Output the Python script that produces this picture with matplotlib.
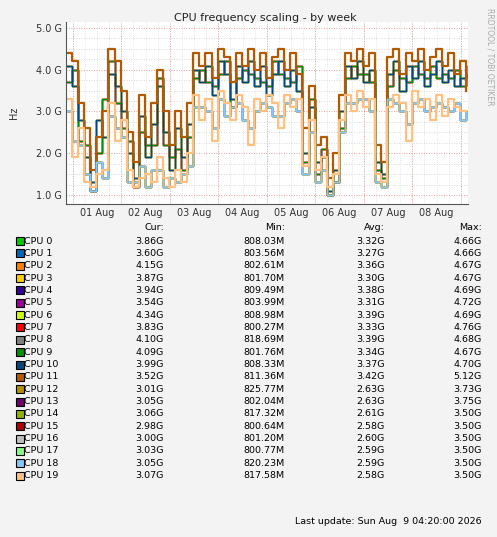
import matplotlib
matplotlib.use("Agg")
import matplotlib.pyplot as plt
from matplotlib.patches import Rectangle
import numpy as np

cpus = [f"CPU {i}" for i in range(20)]
colors = ["#00cc00", "#0066b3", "#ff8000", "#ffcc00", "#330099", "#990099", "#ccff00", "#ff0000",
          "#808080", "#008f00", "#00487d", "#b35a00", "#b38f00", "#6b006b", "#8fb300", "#b30000",
          "#bebebe", "#80ff80", "#80c9ff", "#ffc080"]
cur = ["3.86G","3.60G","4.15G","3.87G","3.94G","3.54G","4.34G","3.83G","4.10G","4.09G",
       "3.99G","3.52G","3.01G","3.05G","3.06G","2.98G","3.00G","3.03G","3.05G","3.07G"]
mins = ["808.03M","803.56M","802.61M","801.70M","809.49M","803.99M","808.98M","800.27M","818.69M","801.76M",
        "808.33M","811.36M","825.77M","802.04M","817.32M","800.64M","801.20M","800.77M","820.23M","817.58M"]
avgs = ["3.32G","3.27G","3.36G","3.30G","3.38G","3.31G","3.39G","3.33G","3.39G","3.34G",
        "3.37G","3.42G","2.63G","2.63G","2.61G","2.58G","2.60G","2.59G","2.59G","2.58G"]
maxs = ["4.66G","4.66G","4.67G","4.67G","4.69G","4.72G","4.69G","4.76G","4.68G","4.67G",
        "4.70G","5.12G","3.73G","3.75G","3.50G","3.50G","3.50G","3.50G","3.50G","3.50G"]

# time in days since 31 Jul 00:00, every 3 hours
t_start = 0.86
step = 0.125
hi = [4.4,4.2,3.2,2.6,1.6,2.4,3.0,4.5,4.2,3.5,2.5,1.8,3.4,2.4,3.2,4.0,3.0,2.2,3.0,2.4,
      3.2,4.4,4.1,4.4,3.8,4.5,4.3,3.7,4.4,4.1,4.5,4.0,4.4,3.8,4.3,4.5,4.0,4.4,3.9,2.6,
      3.6,2.2,2.4,1.4,2.0,3.4,4.4,4.2,4.5,4.1,4.4,2.2,1.8,4.3,4.5,3.9,4.4,4.2,4.5,4.0,
      4.3,4.5,4.1,4.4,3.9,4.2,3.5]
mid1 = [4.1,3.6,2.8,1.9,1.3,2.8,2.4,3.9,3.6,3.0,2.0,1.4,2.9,1.9,2.7,3.6,2.5,1.6,2.6,1.9,
        2.7,4.0,3.7,4.1,3.4,4.2,3.9,3.3,4.1,3.7,4.2,3.6,4.1,3.4,3.9,4.2,3.6,4.0,3.5,2.0,
        3.1,1.8,1.9,1.1,1.6,3.0,4.1,3.8,4.2,3.7,4.0,1.8,1.5,3.9,4.2,3.5,4.1,3.8,4.2,3.6,
        3.9,4.2,3.7,4.0,3.6,3.8,3.9]
mid2 = [3.7,4.0,2.3,2.2,1.1,2.0,3.3,4.2,3.2,2.6,2.3,1.2,2.5,2.2,2.2,3.8,2.2,1.9,2.1,1.6,
        2.4,3.8,4.0,3.7,3.6,3.9,4.2,3.1,3.8,4.0,3.9,3.8,3.7,3.6,4.2,3.9,3.8,3.7,4.1,1.8,
        3.3,1.5,2.1,1.0,1.3,2.6,3.8,4.1,3.9,3.9,3.7,1.6,1.4,3.6,4.0,3.8,3.7,4.1,3.9,3.8,
        4.1,3.8,3.9,3.8,4.0,3.6,4.1]
low = [3.3,1.9,2.6,1.3,1.2,1.5,1.6,3.2,2.3,2.8,1.6,1.2,1.4,1.5,1.3,1.9,1.4,1.2,1.6,1.3,
       2.0,3.4,2.8,3.3,2.3,3.5,3.2,2.8,3.4,3.1,2.2,3.3,3.0,3.4,3.2,2.6,3.4,3.1,3.3,1.7,
       2.8,1.6,1.9,1.2,1.5,2.8,3.4,3.0,3.5,3.1,3.3,1.5,1.3,3.1,3.4,3.2,2.3,3.5,3.1,3.3,
       2.8,3.4,2.9,3.3,3.1,3.0,3.0]
low2 = [3.0,2.3,2.2,1.5,1.1,1.8,1.4,2.9,2.6,2.4,1.3,1.3,1.7,1.2,1.6,1.6,1.2,1.4,1.3,1.5,
        1.7,3.1,3.1,3.0,2.6,3.3,2.9,3.1,3.2,2.8,2.6,3.0,3.2,3.1,2.9,2.9,3.2,3.3,3.0,1.5,
        2.5,1.3,1.6,1.0,1.3,2.5,3.2,3.2,3.3,3.3,3.0,1.3,1.2,3.3,3.2,3.0,2.7,3.2,3.3,3.0,
        3.1,3.2,3.1,3.0,3.2,2.8,3.0]
series = [mid1, mid2] * 5 + [mid1] + [hi] + [low2] * 7 + [low]
series = series[:10] + [series[10]] + [hi] + [low2] * 7 + [low]
series = [mid1, mid2] * 5 + [mid1, hi] + [low2] * 7 + [low]
series = series[:11] + [hi] + [low2] * 7 + [low]

day_labels = ["01 Aug","02 Aug","03 Aug","04 Aug","05 Aug","06 Aug","07 Aug","08 Aug"]

W, H = 497, 537
fig = plt.figure(figsize=(W/100, H/100), dpi=100, facecolor="#f3f3f3")
def fx(x): return x / W
def fy(y): return 1 - y / H

ax = fig.add_axes([fx(66), fy(204), fx(402), (204-22)/H])
ax.set_facecolor("white")
t = t_start + step * np.arange(len(hi))
for i in range(20):
    ax.step(t, series[i], where="post", color=colors[i], lw=1.6 if i in (11, 19) else 1.0)
ax.set_xlim(t_start, t_start + 402/48.5)
ax.set_ylim(0.784, 5.144)
for d in np.arange(1, 10):
    ax.axvline(d, color="#e08080", ls=(0, (1, 2)), lw=0.6, zorder=0)
for d in np.arange(1, 9.25, 0.25):
    ax.axvline(d, color="#cccccc", ls=(0, (1, 2)), lw=0.5, zorder=0)
for v in np.arange(1, 5.01, 0.25):
    ax.axhline(v, color="#cccccc" if v % 1 else "#e08080", ls=(0, (1, 2)), lw=0.6, zorder=0)
ax.set_yticks([1, 2, 3, 4, 5])
ax.set_yticklabels(["1.0 G","2.0 G","3.0 G","4.0 G","5.0 G"], fontsize=7, color="#333333")
ax.set_xticks(np.arange(1.5, 9, 1))
ax.set_xticklabels(day_labels, fontsize=7, color="#333333")
ax.tick_params(length=0, pad=3)
for s in ["top", "right"]:
    ax.spines[s].set_visible(False)
for s in ["left", "bottom"]:
    ax.spines[s].set_color("#555555")
ax.set_ylabel("Hz", fontsize=7, color="#333333", labelpad=12)

fig.text(fx(265), fy(21), "CPU frequency scaling - by week", ha="center", fontsize=8, color="#222222")
fig.text(fx(490), fy(8), "RRDTOOL / TOBI OETIKER", rotation=270, ha="center", va="top", fontsize=5.5, color="#aaaaaa")

fs = 6.8
hdr_y = 228
fig.text(fx(164), fy(hdr_y), "Cur:", ha="right", va="center", fontsize=fs)
fig.text(fx(285), fy(hdr_y), "Min:", ha="right", va="center", fontsize=fs)
fig.text(fx(385), fy(hdr_y), "Avg:", ha="right", va="center", fontsize=fs)
fig.text(fx(482), fy(hdr_y), "Max:", ha="right", va="center", fontsize=fs)
for i in range(20):
    y = 241 + i * 12.35
    fig.patches.append(Rectangle((fx(16), fy(y + 4)), 8/W, 8/H, transform=fig.transFigure,
                                 facecolor=colors[i], edgecolor="black", lw=0.8))
    fig.text(fx(24), fy(y), cpus[i], va="center", fontsize=fs)
    fig.text(fx(164), fy(y), cur[i], ha="right", va="center", fontsize=fs)
    fig.text(fx(285), fy(y), mins[i], ha="right", va="center", fontsize=fs)
    fig.text(fx(385), fy(y), avgs[i], ha="right", va="center", fontsize=fs)
    fig.text(fx(482), fy(y), maxs[i], ha="right", va="center", fontsize=fs)
fig.text(fx(482), fy(522), "Last update: Sun Aug  9 04:20:00 2026", ha="right", va="center", fontsize=fs)
fig.savefig("out.png", dpi=100, facecolor=fig.get_facecolor())
